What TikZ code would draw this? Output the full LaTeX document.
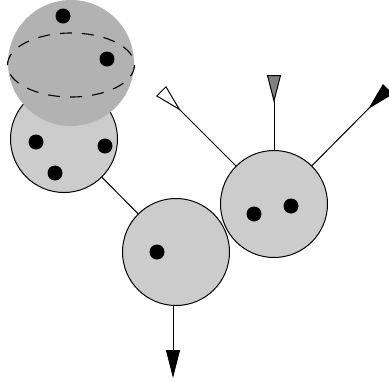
\documentclass[tikz,border=0pt]{standalone}
\usepackage{tikz}
\usetikzlibrary{arrows.meta}

\tikzset{
  ball/.style={circle,draw=black,line width=1pt,fill=black!20,minimum size=107pt,inner sep=0pt},
  flag/.style={line width=1pt,-{Triangle[reversed,length=28pt,width=14pt,#1]}},
  outarrow/.style={line width=1pt,-{Triangle[length=28pt,width=14pt]}}
}

\begin{document}
\begin{tikzpicture}[x=1pt,y=-1pt]
    \useasboundingbox (0,0) rectangle (389,381);
    \node[ball] (upleft) at (64,139) {};
    \node[ball] (low) at (176,252) {};
    \node[ball] (right) at (274,204) {};
    \coordinate (out) at (173,378);
    \coordinate (flagL) at (161,91);
    \coordinate (flagM) at (274,75);
    \coordinate (flagR) at (388,89);
    \fill[black!30] (71,63) circle (63);
    \draw[line width=1.1pt,dash pattern=on 12pt off 10pt] (71,65) ellipse (63.5 and 32);
    \foreach \p in {(63,16),(107,59),(36,142),(105,146),(55,173),(157,252),(254,214),(291,206)}{
      \fill[black] \p circle (7.5);
    }
    \draw[line width=1pt] (upleft) -- (low);
    \draw[outarrow] (low.south -| out) -- (out);
    \draw[flag={open,fill=white}] (right) -- (flagL);
    \draw[flag={fill=black!50}] (right) -- (flagM);
    \draw[flag={fill=black}] (right) -- (flagR);
  \end{tikzpicture}
\end{document}
